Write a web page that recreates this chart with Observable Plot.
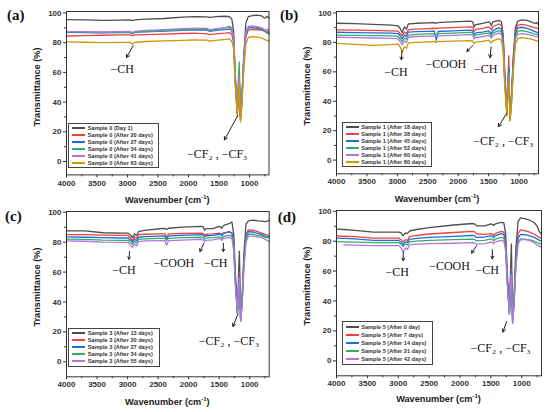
<!DOCTYPE html>
<html><head><meta charset="utf-8">
<script src="https://cdn.jsdelivr.net/npm/d3@7"></script>
<script src="https://cdn.jsdelivr.net/npm/@observablehq/plot@0.6"></script>
<style>
body{margin:0;background:#fff;}
#root{position:relative;width:550px;height:412px;overflow:hidden;background:#fff;font-family:"Liberation Sans",Arial,sans-serif;}
.panel{position:absolute;width:275px;height:206px;}
.panel svg{position:absolute;left:0;top:0;}
.plabel{position:absolute;font-family:"Liberation Serif","Times New Roman",serif;font-weight:bold;font-size:15px;line-height:15px;color:#111;}
.ytitle,.xtitle{position:absolute;font-weight:bold;font-size:9.2px;color:#222;white-space:nowrap;line-height:10px;}
.ytitle{transform:translate(-50%,-50%) rotate(-90deg);}
.xtitle{transform:translate(-50%,-50%);}
.xtitle sup{font-size:6px;line-height:0;vertical-align:4px;}
.legend{position:absolute;border:1px solid #444;box-sizing:border-box;display:flex;flex-direction:column;justify-content:space-evenly;background:#fff;}
.legend .row{display:flex;align-items:center;font-size:5.6px;font-weight:bold;color:#333;white-space:nowrap;line-height:6px;}
.legend .sw{display:inline-block;width:13px;height:2px;margin:0 2.5px 0 3px;}
</style>
</head><body><div id="root"></div>
<script>
// ---------- DATA ----------
const colors = ["#4f4f4f", "#F14040", "#1A6FDF", "#37AD6B", "#B177DE", "#CC9900"];
const xMajor = [4000, 3500, 3000, 2500, 2000, 1500, 1000];
const xMinor = [3750, 3250, 2750, 2250, 1750, 1250, 750];
const yMajor = [0, 20, 40, 60, 80, 100];
const yMinor = [10, 30, 50, 70, 90];

// Panel (a) Sample 0
const wnA = [4000, 3700, 3400, 3100, 2960, 2920, 2880, 2700, 2400, 2100, 1900, 1700, 1650, 1550, 1400, 1330, 1290, 1260, 1235, 1200, 1180, 1168, 1148, 1125, 1095, 1060, 1020, 950, 870, 800, 750, 710, 680];
const A0 = [95.5, 95.3, 95.0, 95.2, 95.3, 94.8, 95.4, 95.8, 96.3, 97.2, 97.6, 97.4, 97.0, 97.6, 97.8, 97.5, 96.0, 88, 60, 33, 50, 58, 30, 42, 70, 93, 97.5, 98.3, 98.5, 98.0, 96.5, 97.8, 96.5];
const A1 = [84.5, 84.8, 85.0, 85.3, 85.2, 84.6, 85.3, 85.5, 85.8, 86.2, 86.4, 86.0, 85.4, 86.0, 86.5, 86.8, 85.5, 80, 55, 32, 48, 55, 29, 40, 65, 84, 88.5, 89.0, 88.7, 88.5, 88.0, 87.8, 87.0];
const A2 = [87.0, 86.8, 86.6, 86.8, 86.8, 86.0, 86.9, 87.3, 87.8, 88.3, 88.6, 88.4, 87.6, 88.3, 88.8, 89.3, 88.0, 82, 57, 32, 49, 56, 28.5, 41, 67, 86, 89.8, 90.2, 89.6, 89.0, 87.5, 86.5, 86.0];
const A3 = [87.3, 87.1, 86.9, 87.1, 87.0, 86.4, 87.2, 87.7, 88.2, 88.7, 89.0, 88.9, 88.2, 89.0, 90.0, 91.0, 90.0, 84, 58, 33, 58, 67, 29, 42, 69, 87, 90.5, 91.0, 90.3, 89.5, 88.0, 87.2, 86.8];
const A4 = [87.4, 87.5, 87.2, 87.5, 87.6, 86.8, 87.6, 88.3, 88.8, 89.4, 89.8, 89.7, 88.8, 89.5, 90.0, 90.2, 89.0, 83, 57, 33, 52, 57, 28, 41, 68, 87, 91.0, 91.2, 90.8, 90.0, 88.5, 89.0, 88.5];
const A5 = [80.5, 80.3, 80.0, 80.2, 80.2, 79.0, 80.3, 80.8, 81.2, 81.6, 81.9, 81.7, 81.0, 81.6, 82.2, 82.6, 81.0, 76, 52, 30, 47, 53, 26.5, 38, 60, 79, 83.6, 84.0, 83.8, 83.3, 82.0, 81.5, 81.0];
const labelsA = ["Sample 0 (Day 1)", "Sample 0 (After 20 days)", "Sample 0 (After 27 days)", "Sample 0 (After 34 days)", "Sample 0 (After 41 days)", "Sample 0 (After 63 days)"];
const annTextA = ["\u2212CH", "\u2212CF\u2082 , \u2212CF\u2083"];
const annXA = [3087, 1530];
const annYA = [62, 5.2];
const arrX1A = [2907, 1192], arrY1A = [78, 31], arrX2A = [3016, 1410], arrY2A = [70, 14.6];

// Panel (b) Sample 1
const wnB = [4000, 3700, 3400, 3100, 2990, 2955, 2920, 2885, 2850, 2820, 2700, 2500, 2390, 2360, 2330, 2100, 1800, 1760, 1740, 1715, 1600, 1500, 1470, 1455, 1430, 1330, 1290, 1260, 1235, 1200, 1180, 1168, 1148, 1125, 1095, 1060, 1020, 950, 870, 800, 750, 710, 680];
const B0 = [93.0, 92.8, 92.3, 91.7, 91.3, 89.5, 86.5, 90.5, 89.0, 92.5, 93.0, 93.3, 93.4, 93.0, 93.5, 93.9, 94.4, 94.0, 90.5, 92.0, 93.0, 94.0, 93.0, 91.5, 94.0, 95.0, 94.0, 85, 60, 34, 55, 62, 28.5, 42, 70, 90, 94.5, 95.3, 95.0, 94.0, 93.0, 93.5, 92.0];
const B1 = [88.5, 88.4, 88.2, 87.9, 87.6, 86.0, 84.5, 87.0, 85.8, 88.5, 89.0, 89.4, 89.6, 89.3, 89.7, 90.0, 90.6, 90.3, 87.5, 88.8, 89.5, 90.5, 89.5, 88.5, 90.8, 92.5, 91.5, 83, 58, 33, 55, 71, 28.5, 41, 68, 88, 91.8, 92.3, 91.5, 90.8, 90.0, 89.8, 89.2];
const B2 = [86.9, 86.7, 86.5, 86.3, 86.0, 84.5, 82.5, 85.0, 84.0, 87.0, 87.3, 87.5, 87.6, 81.3, 87.4, 87.8, 88.3, 87.9, 85.3, 86.5, 87.0, 87.8, 86.8, 85.8, 88.0, 90.0, 89.0, 81, 57, 32, 53, 63, 28, 40, 66, 86, 89.8, 90.3, 89.5, 88.5, 87.5, 87.0, 86.3];
const B3 = [85.0, 84.8, 84.6, 84.4, 84.1, 82.5, 80.5, 83.0, 82.0, 85.0, 85.5, 85.8, 86.0, 85.0, 86.0, 86.3, 86.8, 86.4, 83.8, 85.0, 85.8, 86.3, 85.3, 84.3, 86.5, 88.0, 87.0, 79, 55, 32, 52, 60, 27.5, 39, 64, 84, 87.5, 88.0, 87.3, 86.5, 85.8, 85.5, 85.0];
const B4 = [83.5, 83.2, 83.0, 82.8, 82.5, 80.5, 78.5, 81.0, 80.0, 83.5, 84.0, 84.3, 84.5, 84.0, 84.5, 84.8, 85.3, 85.0, 82.3, 83.3, 84.0, 84.8, 83.8, 82.8, 85.0, 86.3, 85.3, 77, 54, 31, 51, 58, 27, 38, 62, 82, 85.5, 86.0, 85.5, 85.0, 84.3, 84.0, 83.5];
const B5 = [79.3, 78.6, 78.0, 78.5, 79.0, 77.0, 73.5, 77.0, 76.0, 79.5, 80.0, 80.3, 80.5, 80.0, 80.5, 80.8, 81.2, 81.0, 79.0, 80.2, 80.7, 81.5, 80.5, 79.5, 81.0, 82.5, 81.5, 73, 50, 30, 47, 55, 26.5, 37, 60, 79, 82.5, 83.3, 82.8, 82.3, 81.5, 81.0, 80.5];
const labelsB = ["Sample 1 (After 18 days)", "Sample 1 (After 38 days)", "Sample 1 (After 45 days)", "Sample 1 (After 52 days)", "Sample 1 (After 60 days)", "Sample 1 (After 80 days)"];
const annTextB = ["\u2212CH", "\u2212COOH", "\u2212CH", "\u2212CF\u2082 , \u2212CF\u2083"];
const annXB = [3022, 2202, 1546, 1257];
const annYB = [60, 65.5, 61.7, 12.6];
const arrX1B = [2923, 1759, 1459, 1202], arrY1B = [74.5, 77.9, 76.8, 31.8], arrX2B = [2934, 1858, 1475, 1340], arrY2B = [68.2, 73.9, 69.6, 22.7];

// Panel (c) Sample 3
const wnC = wnB;
const C0 = [87.5, 87.5, 86.3, 86.0, 86.0, 85.0, 83.0, 85.5, 84.5, 87.0, 88.0, 88.8, 89.2, 88.5, 89.3, 90.0, 90.6, 90.3, 88.0, 89.0, 89.0, 90.5, 90.0, 89.3, 91.0, 92.5, 93.5, 85, 60, 34, 62, 74, 29, 42, 72, 92, 94.3, 94.8, 94.3, 94.0, 93.8, 94.0, 94.8];
const C1 = [85.0, 85.0, 84.7, 84.6, 84.5, 83.0, 81.0, 83.5, 82.5, 85.0, 85.3, 85.5, 85.6, 83.0, 85.5, 85.8, 86.0, 85.8, 84.5, 85.3, 85.5, 86.0, 85.6, 85.0, 86.2, 86.8, 86.0, 79, 55, 33, 52, 60, 28, 40, 67, 85, 88.2, 88.0, 87.0, 86.0, 85.2, 84.8, 84.3];
const C2 = [83.5, 83.3, 83.0, 82.8, 82.8, 81.5, 80.0, 82.0, 81.0, 83.3, 83.7, 84.0, 84.2, 82.0, 84.2, 84.5, 85.0, 84.8, 83.5, 84.3, 84.5, 85.3, 85.0, 84.3, 85.8, 87.0, 86.0, 78, 54, 32.5, 51, 58, 27.5, 39, 66, 84, 87.0, 86.8, 85.8, 85.0, 84.0, 83.5, 83.5];
const C3 = [82.0, 81.8, 81.3, 81.2, 81.2, 80.0, 78.5, 80.5, 79.5, 81.8, 82.2, 82.5, 82.6, 81.0, 82.6, 83.0, 83.3, 83.1, 82.0, 82.7, 83.0, 83.5, 83.2, 82.5, 83.8, 84.5, 83.8, 76, 53, 32, 50, 57, 27, 38, 64, 82, 85.5, 85.3, 84.5, 84.0, 83.3, 83.0, 83.0];
const C4 = [80.8, 80.6, 80.0, 79.8, 79.8, 78.0, 76.5, 78.8, 77.5, 80.3, 80.8, 81.0, 81.0, 78.0, 81.0, 81.4, 81.8, 81.6, 80.3, 81.2, 81.5, 82.3, 82.0, 81.2, 82.5, 83.0, 82.3, 74, 52, 33, 50, 56, 27, 37, 62, 80, 84.0, 84.0, 83.5, 83.0, 82.0, 81.0, 80.5];
const labelsC = ["Sample 3 (After 13 days)", "Sample 3 (After 20 days)", "Sample 3 (After 27 days)", "Sample 3 (After 34 days)", "Sample 3 (After 55 days)"];
const annTextC = ["\u2212CH", "\u2212COOH", "\u2212CH", "\u2212CF\u2082 , \u2212CF\u2083"];
const annXC = [3060, 2241, 1557, 1339];
const annYC = [61, 65.9, 65.9, 13.6];
const arrX1C = [2967, 1749, 1431, 1192], arrY1C = [73.7, 79.3, 79.3, 32], arrX2C = [2979, 1815, 1431, 1274], arrY2C = [68.6, 73.7, 73.7, 23.6];

// Panel (d) Sample 5
const wnD = [4000, 3880, 3700, 3400, 3100, 2990, 2955, 2920, 2885, 2850, 2820, 2700, 2500, 2100, 1800, 1760, 1740, 1715, 1600, 1500, 1470, 1455, 1430, 1330, 1290, 1260, 1235, 1200, 1180, 1168, 1148, 1125, 1095, 1060, 1020, 950, 870, 800, 750, 710, 680];
const D0 = [88.0, 87.8, 87.2, 86.0, 86.0, 86.0, 85.5, 83.5, 85.5, 85.0, 86.8, 87.8, 89.0, 90.8, 91.8, 91.5, 90.5, 90.3, 90.2, 91.5, 91.0, 90.5, 91.5, 92.5, 92.3, 85, 60, 33, 62, 78, 27, 42, 75, 93, 95.5, 95.0, 94.0, 92.5, 90.0, 86.0, 84.5];
const D1 = [83.5, 83.3, 83.0, 82.0, 82.0, 82.0, 81.0, 79.5, 81.0, 80.5, 83.0, 83.8, 84.8, 85.8, 86.5, 86.2, 85.0, 84.8, 84.5, 85.0, 84.5, 83.8, 85.0, 86.5, 86.0, 79, 55, 32, 55, 62, 27, 40, 68, 85, 87.5, 87.0, 86.0, 84.8, 83.5, 82.5, 82.0];
const D2 = [82.0, 81.8, 81.5, 80.5, 80.5, 80.5, 79.5, 77.8, 79.5, 79.0, 81.2, 81.8, 82.5, 83.2, 83.8, 83.5, 82.5, 82.5, 82.8, 83.5, 83.0, 82.3, 83.5, 85.0, 84.5, 77, 54, 31.5, 53, 60, 26.5, 39, 66, 82, 84.5, 84.3, 83.5, 82.5, 81.5, 80.5, 80.0];
const D3 = [79.7, 79.5, 79.3, 79.0, 79.0, 79.0, 78.0, 76.5, 78.0, 77.5, 79.5, 80.0, 80.5, 81.0, 81.3, 81.0, 80.3, 80.3, 80.5, 81.5, 81.0, 80.3, 81.3, 82.5, 82.0, 75, 53, 31, 52, 58, 26, 38, 64, 79, 81.5, 81.3, 80.8, 80.0, 79.0, 78.3, 78.0];
const D4 = [null, 77.5, 77.3, 77.0, 77.0, 77.0, 75.5, 72.5, 75.5, 74.5, 77.5, 78.0, 78.3, 78.6, 79.0, 78.8, 78.0, 78.0, 78.3, 79.4, 79.0, 78.3, 79.5, 80.5, 80.0, 73, 52, 31.5, 51, 57, 25, 37, 63, 78, 81.0, 81.0, 80.3, 79.0, 77.5, 76.5, 76.0];
const labelsD = ["Sample 5 (After 0 day)", "Sample 5 (After 7 days)", "Sample 5 (After 14 days)", "Sample 5 (After 21 days)", "Sample 5 (After 42 days)"];
const annTextD = ["\u2212CH", "\u2212COOH", "\u2212CH", "\u2212CF\u2082 , \u2212CF\u2083"];
const annXD = [3016, 2169, 1558, 1342];
const annYD = [59.2, 63.2, 60.6, 8.5];
const arrX1D = [2919, 1731, 1476, 1245], arrY1D = [72.6, 77, 74.3, 26.3], arrX2D = [2919, 1812, 1476, 1305], arrY2D = [67, 72, 68.1, 19.2];

// ---------- LAYOUT ----------
const panels = [
  {tag: "(a)", left: 0, top: 0, mL: 66, mR: 6.5, mT: 11, mB: 31.6, yDom: [-9, 101], wn: wnA, series: [A0, A1, A2, A3, A4, A5], labels: labelsA,
   annText: annTextA, annX: annXA, annY: annYA, ax1: arrX1A, ay1: arrY1A, ax2: arrX2A, ay2: arrY2A,
   leg: [68.3, 122.7, 91, 45.6], tagPos: [7, 8], yTitleX: 36.7, xTitleY: 200},
  {tag: "(b)", left: 275, top: 0, mL: 61, mR: 12, mT: 11, mB: 32.7, yDom: [-9.3, 101], wn: wnB, series: [B0, B1, B2, B3, B4, B5], labels: labelsB,
   annText: annTextB, annX: annXB, annY: annYB, ax1: arrX1B, ay1: arrY1B, ax2: arrX2B, ay2: arrY2B,
   leg: [66.7, 121.7, 90, 45], tagPos: [5, 7.5], yTitleX: 31.7, xTitleY: 199},
  {tag: "(c)", left: 0, top: 206, mL: 66, mR: 6.3, mT: 5, mB: 35.7, yDom: [-10, 100.5], wn: wnC, series: [C0, C1, C2, C3, C4], labels: labelsC,
   annText: annTextC, annX: annXC, annY: annYC, ax1: arrX1C, ay1: arrY1C, ax2: arrX2C, ay2: arrY2C,
   leg: [68.3, 121.7, 91.7, 39], tagPos: [5, 3], yTitleX: 36.7, xTitleY: 195.7},
  {tag: "(d)", left: 275, top: 206, mL: 61, mR: 9, mT: 4, mB: 36.7, yDom: [-10, 100.5], wn: wnD, series: [D0, D1, D2, D3, D4], labels: labelsD,
   annText: annTextD, annX: annXD, annY: annYD, ax1: arrX1D, ay1: arrY1D, ax2: arrX2D, ay2: arrY2D,
   leg: [66.7, 115, 91.6, 44.3], tagPos: [2.7, 3.8], yTitleX: 31.7, xTitleY: 193}
];

const root = document.getElementById("root");
for (const p of panels) {
  const div = document.createElement("div");
  div.className = "panel";
  div.style.left = p.left + "px";
  div.style.top = p.top + "px";
  const lines = p.series.map((vals, i) =>
    Plot.line(p.wn.map((w, j) => ({w, t: vals[j]})), {x: "w", y: "t", stroke: colors[i], strokeWidth: 1.3}));
  const ann = p.annText.map((t, i) => ({t, x: p.annX[i], y: p.annY[i]}));
  const arr = p.ax1.map((v, i) => ({x1: v, y1: p.ay1[i], x2: p.ax2[i], y2: p.ay2[i]}));
  const chart = Plot.plot({
    width: 275, height: 206,
    marginLeft: p.mL, marginRight: p.mR, marginTop: p.mT, marginBottom: p.mB,
    x: {domain: [4000, 680]},
    y: {domain: p.yDom},
    style: {fontFamily: "'Liberation Sans', Arial, sans-serif", fontSize: "8px", fontWeight: "bold", color: "#333", background: "transparent", overflow: "visible"},
    marks: [
      Plot.axisX({ticks: xMajor, tickSize: 3, tickPadding: 2, tickFormat: "d", label: null}),
      Plot.axisX({ticks: xMinor, tickSize: 2, tickFormat: () => "", label: null}),
      Plot.axisY({ticks: yMajor, tickSize: 3, tickPadding: 2, tickFormat: "d", label: null}),
      Plot.axisY({ticks: yMinor, tickSize: 2, tickFormat: () => "", label: null}),
      ...lines,
      Plot.arrow(arr, {x1: "x1", y1: "y1", x2: "x2", y2: "y2", stroke: "#222", strokeWidth: 1, headLength: 5}),
      Plot.text(ann, {x: "x", y: "y", text: "t", fontFamily: "'Liberation Serif', 'DejaVu Serif', serif", fontSize: 12, fontWeight: "normal", fill: "#111"}),
      Plot.frame({stroke: "#333", strokeWidth: 1})
    ]
  });
  div.appendChild(chart);

  const tag = document.createElement("div");
  tag.className = "plabel";
  tag.textContent = p.tag;
  tag.style.left = p.tagPos[0] + "px";
  tag.style.top = p.tagPos[1] + "px";
  div.appendChild(tag);

  const ys = chart.scale("y");
  const yt = document.createElement("div");
  yt.className = "ytitle";
  yt.textContent = "Transmittance (%)";
  yt.style.left = p.yTitleX + "px";
  yt.style.top = ys.apply(50) + "px";
  div.appendChild(yt);

  const xt = document.createElement("div");
  xt.className = "xtitle";
  xt.innerHTML = "Wavenumber (cm<sup>-1</sup>)";
  xt.style.left = (p.mL + (275 - p.mR)) / 2 + "px";
  xt.style.top = p.xTitleY + "px";
  div.appendChild(xt);

  const leg = document.createElement("div");
  leg.className = "legend";
  leg.style.left = p.leg[0] + "px";
  leg.style.top = p.leg[1] + "px";
  leg.style.width = p.leg[2] + "px";
  leg.style.height = p.leg[3] + "px";
  p.labels.forEach((lab, i) => {
    const row = document.createElement("div");
    row.className = "row";
    const sw = document.createElement("span");
    sw.className = "sw";
    sw.style.background = colors[i];
    row.appendChild(sw);
    row.appendChild(document.createTextNode(lab));
    leg.appendChild(row);
  });
  div.appendChild(leg);

  root.appendChild(div);
}
</script></body></html>
